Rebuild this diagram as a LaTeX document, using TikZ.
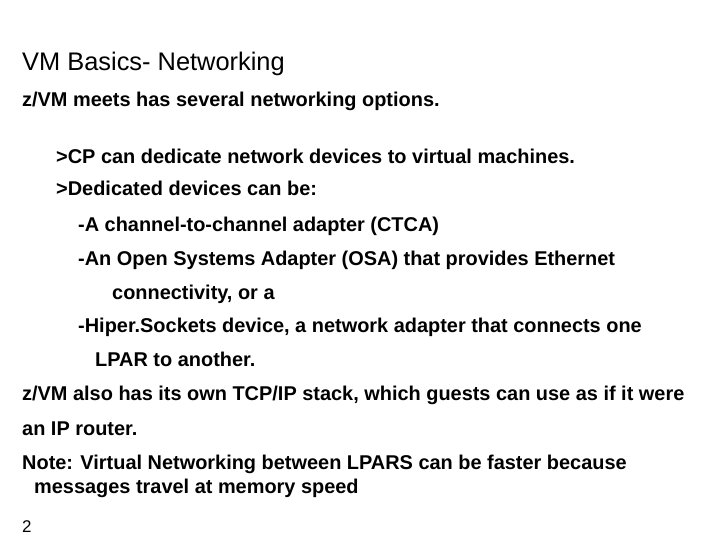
\documentclass[tikz,border=0pt]{standalone}
\usepackage{fontspec}
\setmainfont{Liberation Sans}
\begin{document}
\begin{tikzpicture}[x=1bp,y=-1bp,
    txt/.style={anchor=mid west, inner sep=0pt, font=\fontsize{20}{24}\selectfont\bfseries},
    ttl/.style={anchor=mid west, inner sep=0pt, font=\fontsize{25.5}{30}\selectfont}]
        \useasboundingbox[fill=white] (0,0) rectangle (720,540);
        % title
        \node[ttl] (title) at (22, 68) {VM Basics- Networking};
        % body
        \node[txt] (l1) at (22, 104) {z/VM meets has several networking options.};
        \node[txt] (l2) at (56, 161) {>CP can dedicate network devices to virtual machines.};
        \node[txt] (l3) at (56, 193) {>Dedicated devices can be:};
        \node[txt] (l4) at (78, 229) {-A channel-to-channel adapter (CTCA)};
        \node[txt] (l5) at (78, 263) {-An Open Systems Adapter (OSA) that provides Ethernet};
        \node[txt] (l6) at (112, 297) {connectivity, or a};
        \node[txt] (l7) at (78, 330) {-Hiper.Sockets device, a network adapter that connects one};
        \node[txt] (l8) at (95, 364) {LPAR to another.};
        \node[txt] (l9) at (22, 398) {z/VM also has its own TCP/IP stack, which guests can use as if it were};
        \node[txt] (l10) at (22, 433) {an IP router.};
        \node[txt] (l11) at (22, 467) {Note: Virtual Networking between LPARS can be faster because};
        \node[txt] (l12) at (34, 491) {messages travel at memory speed};
        % page number
        \node[txt, font=\fontsize{17}{20}\selectfont] (num) at (22, 530) {2};
    \end{tikzpicture}
\end{document}
